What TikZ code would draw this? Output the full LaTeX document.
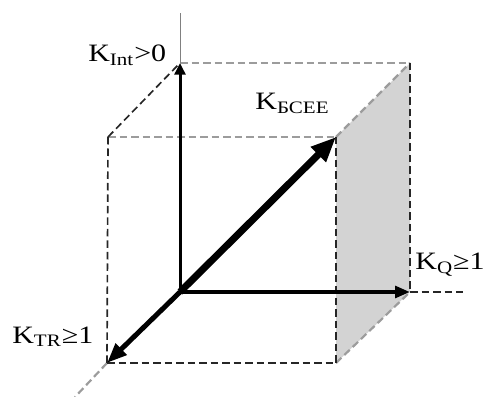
\documentclass[tikz,border=0pt]{standalone}
\usepackage{graphicx}
\usepackage{fontspec}
\setmainfont{Liberation Serif}
\usetikzlibrary{arrows.meta}
\definecolor{facegray}{HTML}{D3D3D3}
\definecolor{dashgray}{HTML}{9C9C9C}
\newcommand{\widetext}[1]{\scalebox{1.2}[1]{#1}}

\begin{document}
\begin{tikzpicture}[x=0.6pt,y=-0.6pt,
    edge/.style={dash pattern=on 4.5pt off 2.4pt, line width=1pt, black!85},
    faint/.style={edge, dashgray, line width=1.3pt},
    vec/.style={line width=#1},
    lbl/.style={font=\fontsize{15}{17}\selectfont, inner sep=0pt, anchor=base west}]
  \useasboundingbox (0,0) rectangle (488,397);

  % cube corners
  \coordinate (o)   at (180,292);
  \coordinate (btl) at (180,63);
  \coordinate (btr) at (410,63);
  \coordinate (bbr) at (410,292);
  \coordinate (fbl) at (107,363);
  \coordinate (ftl) at (108,137);
  \coordinate (ftr) at (336,137);
  \coordinate (fbr) at (336,363);
  \coordinate (top) at (180,13);
  \coordinate (xend) at (463,292);
  \coordinate (tend) at (75,397);

  % shaded side
  \fill[facegray] (ftr) -- (btr) -- (bbr) -- (fbr) -- cycle;

  % dashed edges
  \draw[faint] (btl) -- (btr);
  \draw[faint] (ftl) -- (ftr);
  \draw[faint] (ftr) -- (btr);
  \draw[faint] (fbr) -- (bbr);
  \draw[faint] (fbl) -- (tend);
  \draw[edge] (ftl) -- (btl);
  \draw[edge] (ftl) -- (fbl);
  \draw[edge] (ftr) -- (fbr);
  \draw[edge] (btr) -- (bbr);
  \draw[edge] (fbl) -- (fbr);
  \draw[edge] (bbr) -- (xend);
  \draw[gray, line width=0.5pt] (btl) -- (top);

  % axes
  \draw[vec=1.8pt, -{Triangle[length=7pt,width=6.5pt]}] (o) -- (btl);
  \draw[vec=2.4pt, -{Triangle[length=9pt,width=7pt]}] (o) -- (bbr);
  \draw[vec=3pt, -{Triangle[length=12pt,width=9pt]}] (o) -- (fbl);
  \draw[vec=4.2pt, -{Triangle[length=15pt,width=12pt]}] (o) -- (ftr);

  % labels
  \node[lbl] (kint) at (88,62) {\widetext{K\textsubscript{Int}>0}};
  \node[lbl] (kbcee) at (255,110) {\widetext{K\textsubscript{БСЕЕ}}};
  \node[lbl] (kq) at (415,270) {\widetext{K\textsubscript{Q}≥1}};
  \node[lbl] (ktr) at (12,343) {\widetext{K\textsubscript{TR}≥1}};
\end{tikzpicture}
\end{document}
